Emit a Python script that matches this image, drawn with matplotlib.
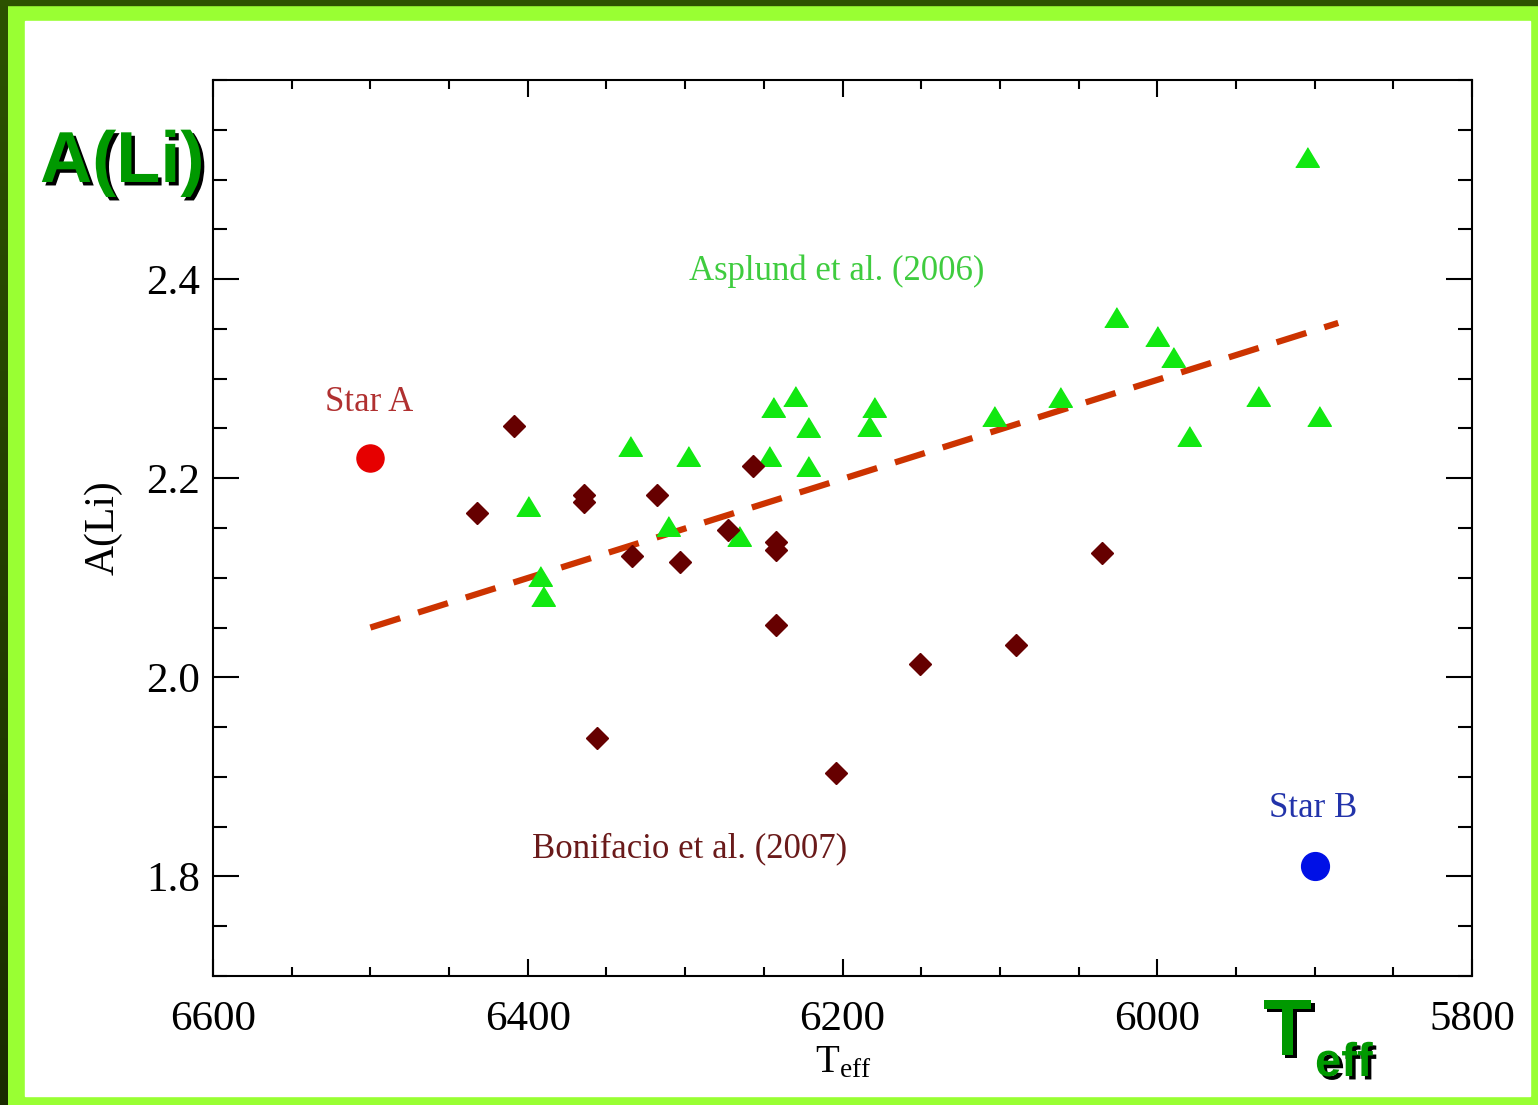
import matplotlib
matplotlib.use('Agg')
import matplotlib.pyplot as plt
import matplotlib.patheffects as pe
import numpy as np
from matplotlib.patches import Rectangle
from matplotlib.ticker import MultipleLocator

# Asplund et al. (2006) - green triangles
asplund_teff = [5905, 6026, 6000, 5990, 5936, 5897, 5980, 6062, 6104, 6180, 6183, 6230,
                6244, 6222, 6222, 6247, 6266, 6311, 6298, 6335, 6400, 6392, 6390]
asplund_ali = [2.523, 2.362, 2.343, 2.322, 2.283, 2.262, 2.242, 2.282, 2.262, 2.272, 2.252, 2.283,
               2.272, 2.251, 2.212, 2.222, 2.142, 2.152, 2.222, 2.232, 2.172, 2.102, 2.082]

# Bonifacio et al. (2007) - dark red diamonds
bonifacio_teff = [6409, 6432, 6364, 6364, 6318, 6334, 6303, 6273, 6257, 6242, 6242, 6242,
                  6356, 6204, 6151, 6090, 6035]
bonifacio_ali = [2.252, 2.165, 2.183, 2.176, 2.183, 2.122, 2.116, 2.148, 2.212, 2.136, 2.128, 2.053,
                 1.939, 1.904, 2.013, 2.032, 2.125]

star_a_teff, star_a_ali = 6500, 2.22
star_b_teff, star_b_ali = 5900, 1.81

# trend line
fit_teff = [6500, 5885]
fit_ali = [2.05, 2.356]

W, H = 1538, 1105
fig = plt.figure(figsize=(W / 100, H / 100), dpi=100)

# ---- green frame around the slide ----
bg = fig.add_axes([0, 0, 1, 1], zorder=-10)
bg.set_xlim(0, W)
bg.set_ylim(H, 0)
bg.axis('off')
bg.add_patch(Rectangle((0, 0), W, H, color='#99ff33'))
grad = np.linspace(0, 1, 256).reshape(-1, 1)
cmap = matplotlib.colors.LinearSegmentedColormap.from_list('dk', ['#2c5200', '#1a2b00'])
bg.imshow(grad, cmap=cmap, extent=[0, 8, H, 0], aspect='auto', zorder=1)
bg.add_patch(Rectangle((0, 0), W, 5, color='#2c5200', zorder=1))
bg.add_patch(Rectangle((25, 21), W - 25 - 8, H - 21 - 9, color='white', zorder=2))

# ---- the plot ----
ax = fig.add_axes([213 / W, 1 - 976 / H, 1259 / W, 896 / H])
ax.set_facecolor('white')

ax.plot(fit_teff, fit_ali, color='#cc3300', lw=4.5, linestyle=(0, (5, 3)),
        dash_capstyle='butt', zorder=2)

tri = [(-1, -0.83), (1, -0.83), (0, 0.83)]
ax.plot(asplund_teff, asplund_ali, linestyle='none', marker=tri, markersize=17,
        color='#11e811', zorder=3)
ax.plot(bonifacio_teff, bonifacio_ali, linestyle='none', marker='D', markersize=11.5,
        color='#660000', zorder=4)
ax.plot(star_a_teff, star_a_ali, 'o', markersize=19.5, color='#e60000', zorder=4)
ax.plot(star_b_teff, star_b_ali, 'o', markersize=20, color='#0010e6', zorder=4)

serif = 'Liberation Serif'
ax.text(6204, 2.408, 'Asplund et al. (2006)', color='#3fcc3f', fontsize=25,
        family=serif, ha='center', va='center')
ax.text(6501, 2.276, 'Star A', color='#b03030', fontsize=25,
        family=serif, ha='center', va='center')
ax.text(6297, 1.828, 'Bonifacio et al. (2007)', color='#6a1a1a', fontsize=25,
        family=serif, ha='center', va='center')
ax.text(5901, 1.868, 'Star B', color='#2233aa', fontsize=25,
        family=serif, ha='center', va='center')

ax.set_xlim(6600, 5800)
ax.set_ylim(1.7, 2.6)
ax.xaxis.set_major_locator(MultipleLocator(200))
ax.xaxis.set_minor_locator(MultipleLocator(50))
ax.yaxis.set_major_locator(MultipleLocator(0.2))
ax.yaxis.set_minor_locator(MultipleLocator(0.05))
ax.tick_params(axis='both', which='both', direction='in', top=True, right=True,
               width=1.5, colors='black')
ax.tick_params(axis='y', which='major', length=19, pad=9)
ax.tick_params(axis='y', which='minor', length=10)
ax.tick_params(axis='x', which='major', length=12, pad=18)
ax.tick_params(axis='x', which='minor', length=6.5)
ax.set_xticks([6600, 6400, 6200, 6000, 5800])
ax.set_xticklabels(['6600', '6400', '6200', '6000', '5800'], family=serif, fontsize=31)
ax.set_yticks([1.8, 2.0, 2.2, 2.4])
ax.set_yticklabels(['1.8', '2.0', '2.2', '2.4'], family=serif, fontsize=31)
for s in ax.spines.values():
    s.set_linewidth(1.5)

plt.rcParams['mathtext.fontset'] = 'stix'
fig.text(843 / W, 1 - 1063 / H, r'T$_{\mathregular{eff}}$', family=serif, fontsize=28,
         ha='center', va='center')
fig.text(103 / W, 1 - 528 / H, 'A(Li)', family=serif, fontsize=30, rotation=90,
         ha='center', va='center')

# ---- big green slide labels ----
shadow = [pe.SimplePatchShadow(offset=(2.5, -2.5), shadow_rgbFace='black', alpha=1), pe.Normal()]
fig.text(40 / W, 1 - 182 / H, 'A(Li)', family='Liberation Sans', weight='bold',
         fontsize=52, color='#009900', ha='left', va='baseline', path_effects=shadow)
fig.text(1263 / W, 1 - 1055 / H, 'T', family='Liberation Sans', weight='bold',
         fontsize=58, color='#009900', ha='left', va='baseline', path_effects=shadow)
fig.text(1315 / W, 1 - 1076 / H, 'eff', family='Liberation Sans', weight='bold',
         fontsize=34, color='#009900', ha='left', va='baseline', path_effects=shadow)

fig.savefig('out.png', dpi=100)
